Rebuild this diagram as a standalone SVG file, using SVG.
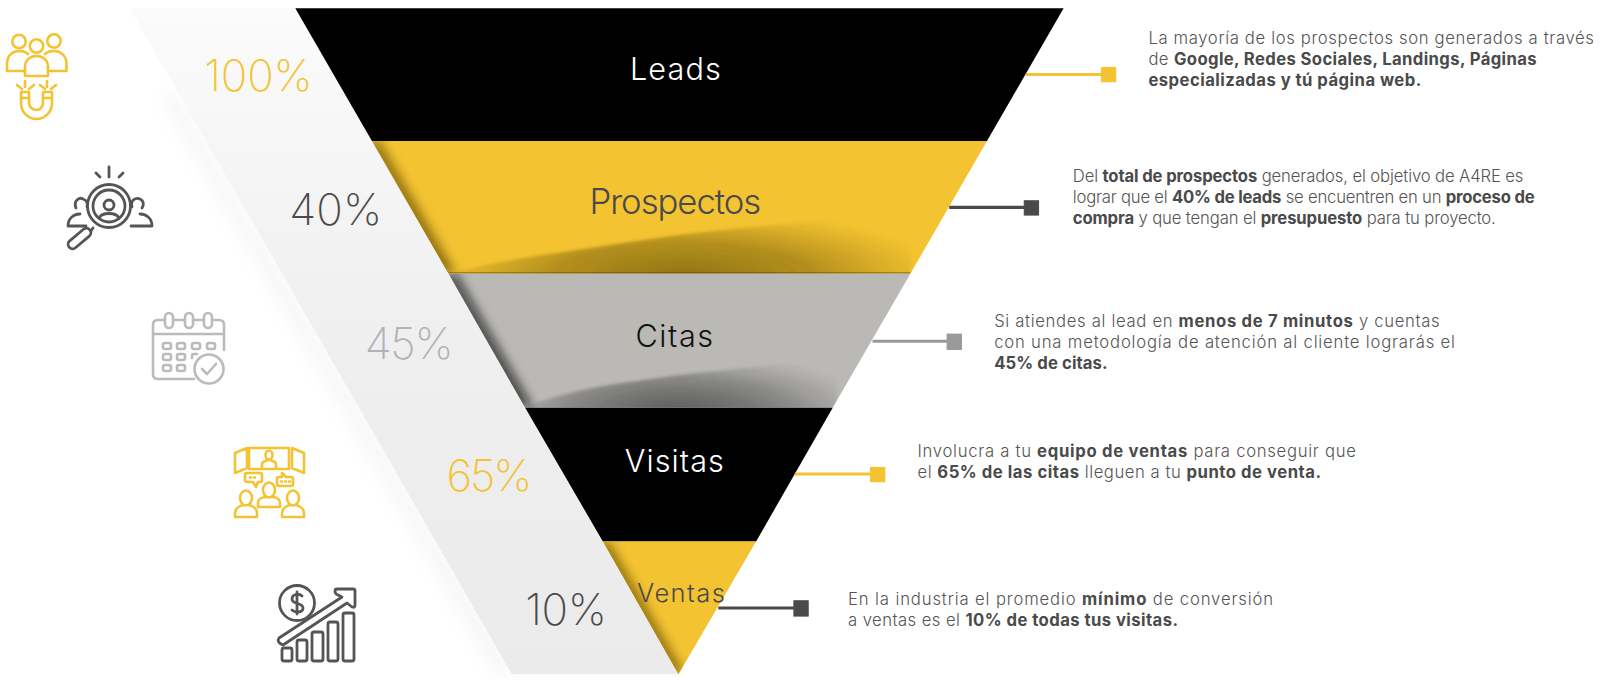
<svg xmlns="http://www.w3.org/2000/svg" width="1600" height="680" viewBox="0 0 1600 680">
<style>
text{font-family:"Inter","Open Sans","Liberation Sans",sans-serif}
.d{font-size:16.300px;font-weight:300;fill:#555}
.d tspan{font-weight:700;fill:#4a4a4a}
.t{font-size:30px;font-weight:300;text-anchor:middle}
.p{font-size:43px;font-weight:200}
.iy,.iy *{fill:none;stroke:#f3c331;stroke-width:2.6;stroke-linecap:round;stroke-linejoin:round}
.id,.id *{fill:none;stroke:#555;stroke-width:2.800;stroke-linecap:round;stroke-linejoin:round}
.ig,.ig *{fill:none;stroke:#bbb;stroke-width:2.6;stroke-linecap:round;stroke-linejoin:round}
.y{fill:#f3c331;stroke:#f3c331}.k{fill:#4a4a4a;stroke:#4a4a4a}.g{fill:#999;stroke:#999}
.c{stroke-width:3;fill:none}
</style>
<defs>
<linearGradient id="band" x1="0" y1="0" x2="0" y2="1"><stop offset="0" stop-color="#fbfbfb"/><stop offset=".5" stop-color="#efefef"/><stop offset="1" stop-color="#ebebeb"/></linearGradient>
<radialGradient id="ly" gradientUnits="userSpaceOnUse" cx="0" cy="0" r="1" gradientTransform="translate(670,272) scale(255,68)"><stop offset="0" stop-color="#4d3b00" stop-opacity=".6"/><stop offset=".5" stop-color="#5a4500" stop-opacity=".42"/><stop offset=".85" stop-color="#6b5200" stop-opacity=".12"/><stop offset="1" stop-color="#6b5200" stop-opacity="0"/></radialGradient>
<radialGradient id="lg" gradientUnits="userSpaceOnUse" cx="0" cy="0" r="1" gradientTransform="translate(665,403) scale(190,58)"><stop offset="0" stop-color="#222" stop-opacity=".62"/><stop offset=".5" stop-color="#333" stop-opacity=".42"/><stop offset=".85" stop-color="#444" stop-opacity=".12"/><stop offset="1" stop-color="#444" stop-opacity="0"/></radialGradient>
<filter id="b1" x="-10%" y="-30%" width="120%" height="160%"><feGaussianBlur stdDeviation="1.500"/></filter>
<filter id="b2" x="-60%" y="-30%" width="220%" height="160%"><feGaussianBlur stdDeviation="5"/></filter>
<filter id="b3" x="-60%" y="-10%" width="220%" height="120%"><feGaussianBlur stdDeviation="8"/></filter>
<clipPath id="cp"><polygon points="365,138 967,138 892,268 440,268"/></clipPath>
<clipPath id="cc"><polygon points="440,268 892,268 816,399 515,399"/></clipPath>
<clipPath id="cv"><polygon points="591,530 741,530 665,660"/></clipPath>
</defs>
<g transform="translate(-1,0) scale(1.0217)">
<g id="band-group">
<polygon points="170,90 502,660 488,660 160,95" fill="#bbb" opacity=".16" filter="url(#b3)"/>
<polygon points="128,8 290,8 665,660 502,660" fill="url(#band)"/>
</g>
<g id="leads"><polygon points="290,8 1042,8 967,138 365,138" fill="#000"/>
<text class="t" x="662" y="78" fill="#fff" textLength="89">Leads</text></g>
<g id="prospectos"><polygon points="365,138 967,138 892,268 440,268" fill="#f3c331"/>
<g clip-path="url(#cp)">
<polygon points="360,138 372,138 447,268 432,268" fill="#5a4500" opacity=".7" filter="url(#b2)"/>
<path d="M440,268C490,255 530,250 584,242C620,236 650,232 681,228C720,224 760,220 798,217C830,212 860,206 892,200V272H440Z" fill="url(#ly)" filter="url(#b1)"/>
<rect x="440" y="266.500" width="452" height="1.500" fill="#5a4500" opacity=".6"/>
</g>
<text class="t" x="662" y="209" fill="#4a4a4a" style="font-size:34px" textLength="168">Prospectos</text></g>
<g id="citas"><polygon points="440,268 892,268 816,399 515,399" fill="#bab9b6"/>
<g clip-path="url(#cc)">
<polygon points="435,268 447,268 522,399 507,399" fill="#111" opacity=".75" filter="url(#b2)"/>
<path d="M515,398C545,387 565,383 584,379C620,373 650,369 681,365C715,362 745,358 778,355C790,352 805,348 820,345V403H515Z" fill="url(#lg)" filter="url(#b1)"/>
</g>
<text class="t" x="661" y="340" fill="#111" textLength="76">Citas</text></g>
<g id="visitas"><polygon points="515,399 816,399 741,530 591,530" fill="#000"/>
<text class="t" x="661" y="462" fill="#fff" textLength="97">Visitas</text></g>
<g id="ventas"><polygon points="591,530 741,530 665,660" fill="#f3c331"/>
<g clip-path="url(#cv)"><polygon points="586,530 596,530 670,660 660,660" fill="#5a4500" opacity=".8" filter="url(#b2)"/></g>
<text class="t" x="667.500" y="589" fill="#4a4a4a" style="font-size:25px" textLength="86">Ventas</text></g>
<g id="pct">
<text class="p" x="201" y="89" fill="#f3c331" textLength="106">100%</text>
<text class="p" x="284" y="220" fill="#4a4a4a" textLength="91">40%</text>
<text class="p" x="358" y="351" fill="#b3b3b3" textLength="87">45%</text>
<text class="p" x="438" y="481" fill="#f3c331" textLength="84">65%</text>
<text class="p" x="515" y="612" fill="#4a4a4a" textLength="80">10%</text>
</g>
<g id="connectors">
<path class="c y" d="M1005,73H1080"/><rect class="y" x="1079" y="66" width="14" height="14"/>
<path class="c k" d="M930,203H1005"/><rect class="k" x="1003.500" y="196.500" width="14" height="14"/>
<path class="c g" d="M855,334H928"/><rect class="g" x="928" y="327" width="14" height="15"/>
<path class="c y" d="M779,464H853"/><rect class="y" x="853" y="457.500" width="14" height="14"/>
<path class="c k" d="M704,595H778"/><rect class="k" x="778" y="588" width="14" height="15"/>
</g>
<g id="text1">
<text class="d" x="1125" y="43" textLength="436">La mayoría de los prospectos son generados a través</text>
<text class="d" x="1125" y="63.500" textLength="380">de <tspan>Google, Redes Sociales, Landings, Páginas</tspan></text>
<text class="d" x="1125" y="84" textLength="267"><tspan>especializadas y tú página web.</tspan></text>
</g>
<g id="text2">
<text class="d" x="1051" y="178" textLength="441">Del <tspan>total de prospectos</tspan> generados, el objetivo de A4RE es</text>
<text class="d" x="1051" y="199" textLength="452">lograr que el <tspan>40% de leads</tspan> se encuentren en un <tspan>proceso de</tspan></text>
<text class="d" x="1051" y="219.500" textLength="414"><tspan>compra</tspan> y que tengan el <tspan>presupuesto</tspan> para tu proyecto.</text>
</g>
<g id="text3">
<text class="d" x="974" y="320" textLength="436">Si atiendes al lead en <tspan>menos de 7 minutos</tspan> y cuentas</text>
<text class="d" x="974" y="341" textLength="451">con una metodología de atención al cliente lograrás el</text>
<text class="d" x="974" y="361" textLength="111"><tspan>45% de citas.</tspan></text>
</g>
<g id="text4">
<text class="d" x="899" y="447" textLength="429">Involucra a tu <tspan>equipo de ventas</tspan> para conseguir que</text>
<text class="d" x="899" y="468" textLength="395">el <tspan>65% de las citas</tspan> lleguen a tu <tspan>punto de venta.</tspan></text>
</g>
<g id="text5">
<text class="d" x="831" y="592" textLength="416">En la industria el promedio <tspan>mínimo</tspan> de conversión</text>
<text class="d" x="831" y="613" textLength="323">a ventas es el <tspan>10% de todas tus visitas.</tspan></text>
</g>
</g>
<g id="icon-leads" class="iy">
<circle cx="19" cy="41.500" r="6.700"/><circle cx="36.500" cy="46" r="6.700"/><circle cx="54" cy="41" r="6.700"/>
<path d="M25,71H7V64C7,55 13,51 19,51C23,51 26,52 28,54"/>
<path d="M48,71H66.500V64C66.500,55 60,51 54,51C50,51 47,52 45,54"/>
<path d="M25,76V67C25,60 30,56 36.500,56C43,56 48,60 48,67V76Z"/>
<path d="M21,92V103C21,112 28,119 36.500,119C45,119 52,112 52,103V92H43V103C43,107 40,110 36.500,110C33,110 29,107 29,103V92Z"/>
<path d="M21,98H29M43,98H52"/>
<path d="M17,85L22,89M25,81V87M34,85L29,89M40,85L45,89M47,81V87M56,85L51,89"/>
</g>
<g id="icon-prospectos" class="id">
<circle cx="109" cy="206" r="21.500"/><circle cx="109" cy="206" r="16"/>
<circle cx="109" cy="205" r="5"/><path d="M99,218C102,212 116,212 119,218"/>
<path d="M76,208C73,200 80,197 83,199C87,200 88,204 87,207"/><path d="M132,207C130,200 136,197 140,199C144,201 144,205 142,208"/>
<path d="M86,226H68C68,219 73,214 80,214M131,226H152C152,219 147,214 140,214"/>
<rect x="75" y="225" width="9" height="27" rx="4.500" transform="rotate(50 79.500 238.500)"/>
<path d="M93,228L91,231"/>
<path d="M109,167V177M96,173L100,177M123,173L119,177"/>
</g>
<g id="icon-citas" class="ig">
<path d="M194,379H158Q153,379 153,374V325Q153,320 158,320H164M175,320H184M195,320H203M214,320H219Q224,320 224,325V350"/>
<rect x="165" y="313" width="8" height="15" rx="4"/><rect x="185" y="313" width="8" height="15" rx="4"/><rect x="204" y="313" width="8" height="15" rx="4"/>
<path d="M154,334H224"/>
<rect x="163" y="343" width="8" height="6" rx="2"/><rect x="177" y="343" width="8" height="6" rx="2"/><rect x="192" y="343" width="8" height="6" rx="2"/><rect x="207" y="343" width="8" height="6" rx="2"/>
<rect x="163" y="354" width="8" height="6" rx="2"/><rect x="177" y="354" width="8" height="6" rx="2"/>
<path d="M192,358V356Q192,354 194,354H197"/>
<rect x="163" y="365" width="8" height="6" rx="2"/><rect x="177" y="365" width="8" height="6" rx="2"/>
<circle cx="209" cy="369" r="14.500"/><path d="M202,369L207,374L216,364"/>
</g>
<g id="icon-visitas" class="iy">
<rect x="249" y="448" width="40" height="21"/>
<path d="M235,453L247,448V468L235,473ZM292,448L304,453V473L292,468Z"/>
<ellipse cx="269" cy="455" rx="3.500" ry="4.500"/><path d="M262,468V464C262,461 266,461 268,460M276,468V464C276,461 272,461 270,460"/>
<path d="M247,473H260Q262,473 262,475V480Q262,482 260,482H258L256,487L253,482H247Q245,482 245,480V475Q245,473 247,473Z"/>
<path d="M279,477H282V473L286,477H291Q293,477 293,479V484Q293,486 291,486H279Q277,486 277,484V479Q277,477 279,477Z"/>
<path d="M250,477.500H251M254,477.500H255M281,481.500H282M285,481.500H286M289,481.500H290"/>
<ellipse cx="269" cy="490" rx="6" ry="7.500"/><path d="M258,507V503C258,499 262,497 266,497M280,507V503C280,499 276,497 272,497M258,507H280"/>
<ellipse cx="246" cy="498" rx="6" ry="7.500"/><path d="M235,517V513C235,509 239,506 243,505M257,517V513C257,509 253,506 249,505M235,517H257"/>
<ellipse cx="293" cy="498" rx="6" ry="7.500"/><path d="M282,517V513C282,509 286,506 290,505M304,517V513C304,509 300,506 296,505M282,517H304"/>
</g>
<g id="icon-ventas" class="id">
<circle cx="297" cy="603" r="17.500"/>
<path d="M302,596C299,593 292,594 292,599C292,605 303,602 303,608C303,613 295,613 292,610M297,592V614"/>
<path d="M283,645L347,603L352,607Q355,608 355,605V591Q355,589 353,589H337Q335,589 335,591Q335,594 338,595L342,597L279,638Q276,642 283,645Z"/>
<rect x="282" y="648" width="10" height="13" rx="2"/><rect x="297" y="640" width="10" height="21" rx="2"/><rect x="312" y="632" width="11" height="29" rx="2"/><rect x="328" y="622" width="10" height="39" rx="2"/><rect x="343" y="613" width="11" height="48" rx="2"/>
</g>
</svg>
